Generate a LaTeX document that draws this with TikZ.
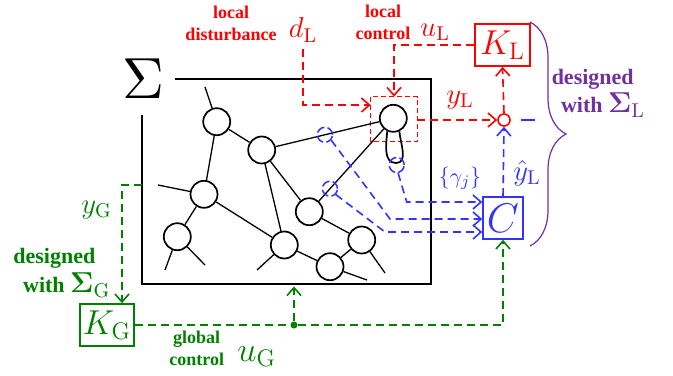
\documentclass[tikz,border=0pt]{standalone}
\usepackage[no-math]{fontspec}
\newfontfamily\tnr{Liberation Serif}
\usetikzlibrary{arrows.meta,calc,decorations.pathreplacing}
\definecolor{cred}{RGB}{255,0,0}
\definecolor{cblue}{RGB}{51,51,255}
\definecolor{cgreen}{RGB}{0,128,0}
\definecolor{cpurple}{RGB}{112,48,160}
\begin{document}
\begin{tikzpicture}[x=0.5pt,y=-0.5pt,
  net/.style={circle,draw,fill=white,line width=0.85pt,minimum size=13.5pt,inner sep=0pt},
  link/.style={line width=0.65pt},
  sysline/.style={line width=1pt},
  dsh/.style={dash pattern=on 4pt off 2.5pt,line width=0.8pt},
  tip/.style={-{Straight Barb[length=4pt,width=7pt]}},
  gcut/.style={circle,draw=cblue,dash pattern=on 4.5pt off 1.6pt,line width=0.75pt,minimum size=7.5pt,inner sep=0pt},
  blk/.style={draw,line width=0.8pt,inner sep=0pt},
  lbl/.style={font=\tnr\bfseries\fontsize{9}{11}\selectfont,align=center},
  dlbl/.style={font=\tnr\bfseries\fontsize{11}{13}\selectfont},
]
\useasboundingbox (0,0) rectangle (673,375);

% system box
\node[minimum width=144.5pt,minimum height=102.5pt,inner sep=0pt] (sys) at (286.5,181.5) {};
\draw[sysline] ($(sys.north west)+(33,0)$) -- (sys.north east) -- (sys.south east) -- (sys.south west) -- ($(sys.north west)+(0,36)$);
\node[inner sep=0pt] (sigma) at (143,78.5) {\scalebox{2.9}{$\Sigma$}};

% local red box
\node[minimum width=23pt,minimum height=22pt,inner sep=0pt] (lbox) at (394,119) {};
\draw[color=cred,dash pattern=on 2.5pt off 1.5pt,line width=0.75pt] (lbox.north west) rectangle (lbox.south east);

% network nodes
\node[net] (n1) at (216.7,121.7) {};
\node[net] (n2) at (261.7,150) {};
\node[net] (n3) at (204,194.3) {};
\node[net] (n4) at (177.3,236.7) {};
\node[net] (n5) at (284.3,245) {};
\node[net] (n6) at (309.3,211.7) {};
\node[net] (n7) at (361.7,240) {};
\node[net] (n8) at (330,266.7) {};
\node[net] (n9) at (393.3,118.3) {};

\coordinate (s1) at (205,87);
\coordinate (s3) at (158,185);
\coordinate (s4a) at (165,270);
\coordinate (s4b) at (205,265);
\coordinate (s5) at (257,270);
\coordinate (s7) at (385,273);
\coordinate (s8) at (367,280);

\draw[link] (n1) -- (s1);
\draw[link] (n1) -- (n2);
\draw[link] (n1) -- (n3);
\draw[link] (n2) -- (n9);
\draw[link] (n2) -- (n5);
\draw[link] (n2) -- (n6);
\draw[link] (n3) -- (s3);
\draw[link] (n3) -- (n4);
\draw[link] (n3) -- (n5);
\draw[link] (n4) -- (s4a);
\draw[link] (n4) -- (s4b);
\draw[link] (n5) -- (s5);
\draw[link] (n5) -- (n8);
\draw[link] (n6) -- (n9);
\draw[link] (n6) -- (n7);
\draw[link] (n7) -- (n8);
\draw[link] (n7) -- (s7);
\draw[link] (n8) -- (s8);
\draw[line width=0.85pt] (n9.-115) to[out=-95,in=180] (396,163) to[out=0,in=-85] (n9.-65);

% blocks
\node[circle,draw=cred,line width=0.8pt,minimum size=6pt,inner sep=0pt] (sum) at (504,120) {};
\node[blk,draw=cred,text=cred,minimum width=27.5pt,minimum height=21pt,font=\LARGE] (KL) at (502.5,45) {$K_{\mathrm{L}}$};
\node[blk,draw=cblue,text=cblue,minimum width=20pt,minimum height=21pt,font=\huge] (C) at (503,218) {$C$};
\node[blk,draw=cgreen,text=cgreen,minimum width=27pt,minimum height=21pt,font=\LARGE] (KG) at (107,325) {$K_{\mathrm{G}}$};

% red connectors and labels
\node[text=cred,font=\Large] (dL) at (303,30) {$d_{\mathrm{L}}$};
\coordinate (dIn) at ($(lbox.west)+(0,-14)$);
\draw[cred,dsh,tip] (dL.south) |- (dIn);
\draw[cred,dsh,tip] (KL.west) -| (lbox.north);
\draw[cred,dsh,tip] (sum -| lbox.east) -- (sum.west);
\draw[cred,dsh,tip] (sum.north) -- (KL.south);
\node[text=cred,font=\Large] (uL) at (435,32) {$u_{\mathrm{L}}$};
\node[text=cred,font=\Large] (yL) at (460,100) {$y_{\mathrm{L}}$};
\node[lbl,text=cred] (lctl) at (383,22) {local\\control};
\node[lbl,text=cred] (ldist) at (231,23) {local\\disturbance};

% blue cuts and connectors
\node[gcut] (g1) at ($(n2)!0.48!(n9)$) {};
\node[gcut] (g2) at ($(n6)!0.246!(n9)$) {};
\node[gcut] (g3) at (396.7,165) {};
\coordinate (b1) at (390,219);
\coordinate (b2) at (385,232);
\coordinate (b3) at (406.7,202);
\draw[cblue,dsh,tip] (g1.-40) -- (b1) -- (b1 -| C.west);
\draw[cblue,dsh,tip] (g2.-45) -- (b2) -- (b2 -| C.west);
\draw[cblue,dsh,tip] (g3.-80) -- (b3) -- (b3 -| C.west);
\draw[cblue,dsh,tip] (C.north) -- (sum.south);
\draw[cblue,line width=0.9pt] ($(sum.east)+(10,0)$) -- ++(14,0);
\node[text=cblue,font=\Large] (yhat) at (527,173) {$\hat{y}_{\mathrm{L}}$};
\node[text=cblue,font=\fontsize{10.95}{13}\selectfont] (gam) at (460,178) {$\{\gamma_j\}$};

% green connectors and labels
\coordinate (yGs) at (sys.west |- 0,185);
\draw[cgreen,dsh,tip] (yGs) -| ($(KG.north)+(15,0)$);
\node[text=cgreen,font=\Large] (yG) at (96.7,210) {$y_{\mathrm{G}}$};
\node[circle,fill=cgreen,inner sep=0pt,minimum size=3.5pt] (dot) at (294,325) {};
\draw[cgreen,dsh] (KG.east) -- (dot);
\draw[cgreen,dsh,tip] (dot) -- ($(dot |- sys.south)+(0,2)$);
\draw[cgreen,dsh,tip] (dot) -| (C.south);
\node[lbl,text=cgreen] (gctl) at (196.7,348) {global\\control};
\node[text=cgreen,font=\LARGE] (uG) at (256.7,356.7) {$u_{\mathrm{G}}$};
\node[dlbl,text=cgreen] (gd1) at (54.3,258.3) {designed};
\node[dlbl,text=cgreen] (gd2) at (66.7,285) {with {\Large$\mathbf{\Sigma}_{\mathrm{G}}$}};

% purple brace and labels
\draw[cpurple,line width=0.6pt,decorate,decoration={brace,amplitude=18pt}] (530,22) -- (530,246);
\node[dlbl,text=cpurple] (pd1) at (592.7,79.3) {designed};
\node[dlbl,text=cpurple] (pd2) at (603,105) {with {\Large$\mathbf{\Sigma}_{\mathrm{L}}$}};
\end{tikzpicture}
\end{document}
